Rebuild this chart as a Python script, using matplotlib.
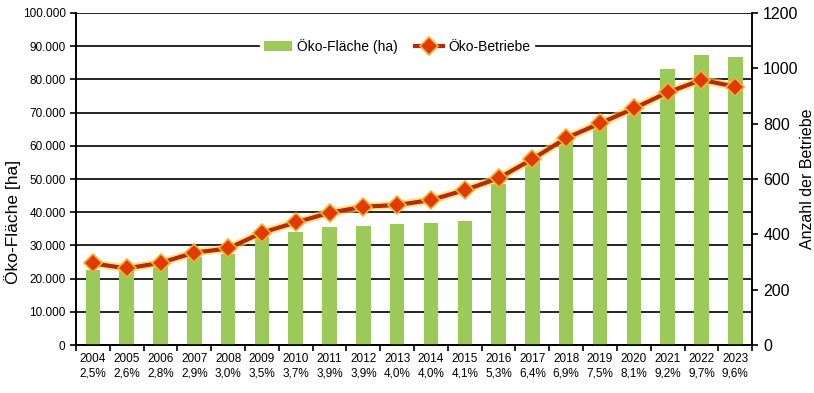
import matplotlib.pyplot as plt
import matplotlib.font_manager as fm
import numpy as np
from matplotlib.ticker import FuncFormatter, FixedLocator

# Daten
jahre = ["2004", "2005", "2006", "2007", "2008", "2009", "2010", "2011", "2012", "2013",
         "2014", "2015", "2016", "2017", "2018", "2019", "2020", "2021", "2022", "2023"]
anteil = ["2,5%", "2,6%", "2,8%", "2,9%", "3,0%", "3,5%", "3,7%", "3,9%", "3,9%", "4,0%",
          "4,0%", "4,1%", "5,3%", "6,4%", "6,9%", "7,5%", "8,1%", "9,2%", "9,7%", "9,6%"]
flaeche = [22600, 22700, 23500, 26500, 27500, 32500, 34000, 35500, 35800, 36400,
           36800, 37400, 48500, 56000, 62000, 66900, 70800, 83000, 87300, 86700]
betriebe = [295, 277, 297, 334, 349, 406, 443, 478, 500, 506,
            524, 560, 603, 672, 748, 801, 855, 913, 958, 934]

names = {f.name for f in fm.fontManager.ttflist}
narrow = "Liberation Sans Narrow" if "Liberation Sans Narrow" in names else "Liberation Sans"
plt.rcParams['font.family'] = ['Liberation Sans', 'DejaVu Sans']

fig = plt.figure(figsize=(8.14, 3.93), dpi=100)
ax = fig.add_axes([0.0934, 0.122, 0.8306, 0.845])
ax2 = ax.twinx()

x = np.arange(len(jahre))
ax.bar(x, flaeche, width=0.43, color='#9bc95a', zorder=3, label='Öko-Fläche (ha)')
ax.set_ylim(0, 100000)
ax.set_xlim(-0.5, len(jahre) - 0.5)
ax.set_yticks(np.arange(0, 100001, 10000))
ax.yaxis.set_major_formatter(FuncFormatter(lambda v, p: f"{int(v):,}".replace(",", ".")))
ax.grid(axis='y', color='black', linewidth=1.2, zorder=0)
ax.set_axisbelow(True)

ax.set_xticks(x)
ax.set_xticklabels([f"{j}\n{a}" for j, a in zip(jahre, anteil)], fontfamily=narrow, fontsize=8.5)
ax.xaxis.set_minor_locator(FixedLocator(np.arange(-0.5, len(jahre), 1)))
ax.tick_params(axis='x', which='major', length=0, pad=6)
ax.tick_params(axis='x', which='minor', length=4, width=1.2, direction='out')
ax.tick_params(axis='y', length=4, width=1.2, direction='out')
for lbl in ax.get_yticklabels():
    lbl.set_fontfamily(narrow)
    lbl.set_fontsize(8.5)
ax.set_ylabel("Öko-Fläche [ha]", fontsize=12.5, labelpad=1, y=0.37)

ax2.plot(x, betriebe, color='#ffd24a', linewidth=6, alpha=0.6, zorder=4, solid_capstyle='round')
ax2.plot(x, betriebe, color='#b52a08', linewidth=3, zorder=5, marker='D', markersize=9,
         markerfacecolor='#e03a06', markeredgecolor='#f5b030', markeredgewidth=1.2,
         label='Öko-Betriebe')
ax2.set_ylim(0, 1200)
ax2.set_yticks(np.arange(0, 1201, 200))
ax2.tick_params(axis='y', length=4, width=1.2, direction='out', labelsize=11.5, pad=4)
ax2.set_ylabel("Anzahl der Betriebe", fontsize=11.5, labelpad=1)

for a in (ax, ax2):
    for s in ('left', 'right', 'bottom'):
        a.spines[s].set_linewidth(1.2)
    a.spines['top'].set_visible(False)

h1, l1 = ax.get_legend_handles_labels()
h2, l2 = ax2.get_legend_handles_labels()
leg = ax2.legend(h1 + h2, l1 + l2, loc='center', bbox_to_anchor=(0.475, 0.9), ncol=2,
                 frameon=True, fancybox=False, edgecolor='white', framealpha=1,
                 fontsize=10, handlelength=2.0, handletextpad=0.4, columnspacing=1.2,
                 borderpad=0.3)
for t in leg.get_texts():
    t.set_fontfamily(narrow)
    t.set_fontsize(10)

fig.savefig("out.png", dpi=100)
